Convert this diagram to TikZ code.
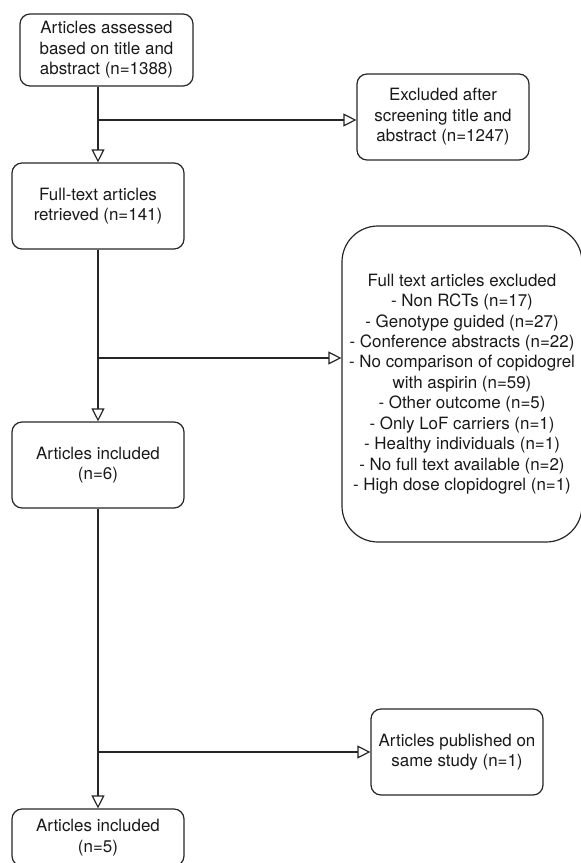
\documentclass[tikz,border=0pt]{standalone}
\usepackage{fontspec}
\setmainfont{TeX Gyre Heros}
\usetikzlibrary{arrows.meta}
\begin{document}
\begin{tikzpicture}[x=1bp, y=-1bp,
        box/.style={draw=black!85, line width=1.2bp, rounded corners=10bp, align=center, inner sep=0pt,
            minimum width=172bp, minimum height=86bp, font=\fontsize{17}{20.5}\selectfont, text=black!90},
        flow/.style={draw=black!85, line width=1.2bp, -{Triangle[open, length=13bp, width=13bp]}},
        link/.style={draw=black!85, line width=1.2bp}]
    \useasboundingbox (0, 0) rectangle (581, 863);
    \node[box, minimum width=173bp, minimum height=72bp] (assessed) at (106.5, 50) {Articles assessed\\based on title and\\abstract (n=1388)};
    \node[box] (screened) at (443, 117) {Excluded after\\screening title and\\abstract (n=1247)};
    \node[box] (retrieved) at (98, 206) {Full-text articles\\retrieved (n=141)};
    \node[box, minimum width=240bp, minimum height=316bp, rounded corners=36bp] (excluded) at (462, 384) {Full text articles excluded\\- Non RCTs (n=17)\\- Genotype guided (n=27)\\- Conference abstracts (n=22)\\- No comparison of copidogrel\\with aspirin (n=59)\\- Other outcome (n=5)\\- Only LoF carriers (n=1)\\- Healthy individuals (n=1)\\- No full text available (n=2)\\- High dose clopidogrel (n=1)};
    \node[box] (included) at (98, 465) {Articles included\\(n=6)};
    \node[box] (samestudy) at (457, 752) {Articles published on\\same study (n=1)};
    \node[box, minimum height=57bp] (final) at (98, 837.5) {Articles included\\(n=5)};
    \coordinate (split1) at (98, 120);
    \coordinate (split2) at (98, 358);
    \coordinate (split3) at (98, 752);
    \draw[flow] (assessed.south -| retrieved.north) -- (retrieved.north);
    \draw[flow] (split1) -- (split1 -| screened.west);
    \draw[flow] (retrieved.south) -- (included.north);
    \draw[flow] (split2) -- (split2 -| excluded.west);
    \draw[flow] (included.south) -- (final.north);
    \draw[flow] (split3) -- (split3 -| samestudy.west);
\end{tikzpicture}
\end{document}
